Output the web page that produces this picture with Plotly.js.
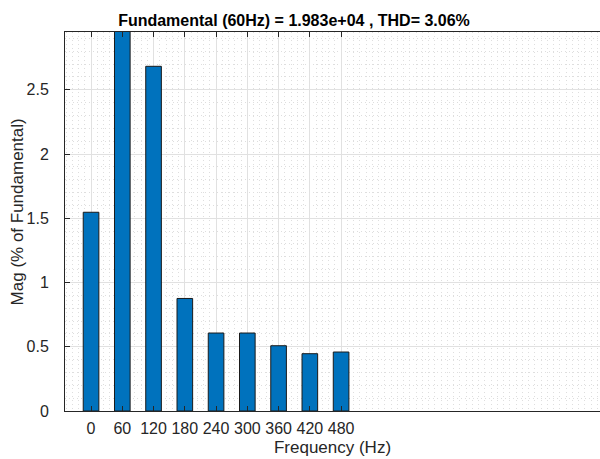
<!DOCTYPE html>
<html>
<head>
<meta charset="utf-8">
<script src="https://cdn.plot.ly/plotly-3.0.1.min.js"></script>
<style>
  html, body { margin: 0; padding: 0; background: #fff; }
  #chart { width: 600px; height: 459px; }
</style>
</head>
<body>
<div id="chart"></div>
<script>
// Harmonic spectrum, magnitude in % of the 60 Hz fundamental
const frequencies = [0, 60, 120, 180, 240, 300, 360, 420, 480];
const magnitudes = [1.547, 100, 2.683, 0.876, 0.607, 0.607, 0.508, 0.446, 0.459];
const tickLabels = ['0', '60', '120', '180', '240', '300', '360', '420', '480'];
const chartTitle = 'Fundamental (60Hz) = 1.983e+04 , THD= 3.06%';
const yLabel = 'Mag (% of Fundamental)';

const axisColor = '#262626';
const fontFamily = '"Liberation Sans", Arial, Helvetica, sans-serif';

const trace = {
  type: 'bar',
  x: frequencies,
  y: magnitudes,
  width: 30,
  marker: { color: '#0072BD', line: { color: '#1a1a1a', width: 1 } },
  hoverinfo: 'x+y'
};

const layout = {
  width: 600,
  height: 459,
  margin: { l: 65, r: 0, t: 32, b: 48 },
  paper_bgcolor: '#ffffff',
  plot_bgcolor: '#ffffff',
  showlegend: false,
  font: { family: fontFamily, color: axisColor },
  title: {
    text: '<b>' + chartTitle + '</b>',
    font: { family: fontFamily, size: 16, color: '#000000' },
    xref: 'paper', x: 0.428, xanchor: 'center',
    yref: 'container', y: 0.955, yanchor: 'middle'
  },
  xaxis: {
    range: [-50, 977],
    tickmode: 'array',
    tickvals: frequencies,
    ticktext: tickLabels,
    ticks: 'inside', ticklen: 5, tickcolor: axisColor, tickwidth: 1,
    showline: true, linecolor: axisColor, linewidth: 1,
    mirror: 'ticks',
    showgrid: true, gridcolor: '#e1e1e1', gridwidth: 1,
    zeroline: false,
    tickfont: { size: 16, color: axisColor },
    ticklabelstandoff: 3,
    minor: {
      tickmode: 'linear', tick0: 0, dtick: 12,
      showgrid: true, gridcolor: '#dedede', griddash: '1px,3px', gridwidth: 1,
      ticks: ''
    },
    title: { text: 'Frequency (Hz)', font: { size: 17, color: axisColor }, standoff: 4 }
  },
  yaxis: {
    range: [0, 2.95],
    tickmode: 'array',
    tickvals: [0, 0.5, 1, 1.5, 2, 2.5],
    ticktext: ['0', '0.5', '1', '1.5', '2', '2.5'],
    ticks: 'inside', ticklen: 5, tickcolor: axisColor, tickwidth: 1,
    showline: true, linecolor: axisColor, linewidth: 1,
    showgrid: true, gridcolor: '#e1e1e1', gridwidth: 1,
    zeroline: false,
    tickfont: { size: 16, color: axisColor },
    ticklabelstandoff: 12,
    minor: {
      tickmode: 'linear', tick0: 0, dtick: 0.1,
      showgrid: true, gridcolor: '#dedede', griddash: '1px,3px', gridwidth: 1,
      ticks: ''
    }
  },
  // vertical axis label, placed beside the tick labels
  annotations: [{
    text: yLabel,
    textangle: -90,
    xref: 'paper', yref: 'paper',
    x: -0.089, y: 0.525,
    xanchor: 'center', yanchor: 'middle',
    showarrow: false,
    font: { size: 17, color: axisColor }
  }]
};

Plotly.newPlot('chart', [trace], layout, { displayModeBar: false, staticPlot: true });
</script>
</body>
</html>
